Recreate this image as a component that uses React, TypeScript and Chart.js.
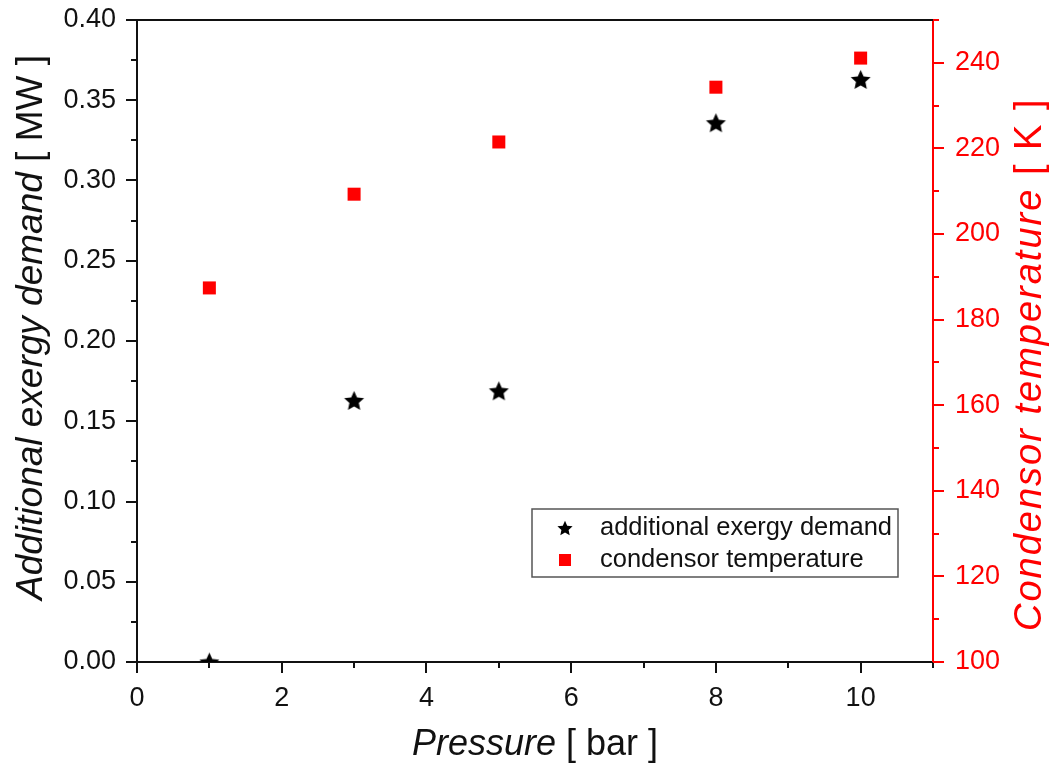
import React, { useEffect, useRef } from "react";
import { Chart, registerables } from "chart.js";

Chart.register(...registerables);

// ---------- data ----------
const pressure = [1, 3, 5, 8, 10];
const exergyDemand = [0.0, 0.163, 0.169, 0.336, 0.363];
const condensorTemp = [187.4, 209.3, 221.5, 234.3, 241.1];
const seriesLabels = ["additional exergy demand", "condensor temperature"];
const xTitle = ["Pressure", " [ bar ]"];
const yTitle = ["Additional exergy demand", " [ MW ]"];
const y2Title = ["Condensor temperature", " [ K ]"];

const FONT = "'Liberation Sans', Arial, Helvetica, sans-serif";
const RED = "#ff0000";
const INK = "#111111";

function makeStar(R: number, color: string): HTMLCanvasElement {
  const size = Math.ceil(R * 2 + 4);
  const c = document.createElement("canvas");
  c.width = size;
  c.height = size;
  const ctx = c.getContext("2d")!;
  const cx = size / 2;
  const cy = size / 2 + R * 0.1;
  ctx.beginPath();
  for (let i = 0; i < 10; i++) {
    const r = i % 2 === 0 ? R : R * 0.47;
    const a = -Math.PI / 2 + (i * Math.PI) / 5;
    const px = cx + r * Math.cos(a);
    const py = cy + r * Math.sin(a);
    if (i === 0) ctx.moveTo(px, py);
    else ctx.lineTo(px, py);
  }
  ctx.closePath();
  ctx.fillStyle = color;
  ctx.fill();
  return c;
}

function drawMixed(
  ctx: CanvasRenderingContext2D,
  parts: [string, boolean][],
  x: number,
  y: number,
  size: number,
  color: string,
  align: "left" | "center",
  spacing = 0
) {
  (ctx as any).letterSpacing = `${spacing}px`;
  const fonts = parts.map(([, it]) => `${it ? "italic " : ""}${size}px ${FONT}`);
  const widths = parts.map(([t], i) => {
    ctx.font = fonts[i];
    return ctx.measureText(t).width;
  });
  const total = widths.reduce((a, b) => a + b, 0);
  let cx = align === "center" ? x - total / 2 : x;
  ctx.fillStyle = color;
  ctx.textBaseline = "alphabetic";
  ctx.textAlign = "left";
  parts.forEach(([t], i) => {
    ctx.font = fonts[i];
    ctx.fillText(t, cx, y);
    cx += widths[i];
  });
  (ctx as any).letterSpacing = "0px";
}

const decorPlugin = {
  id: "decor",
  afterDraw(chart: any) {
    const { ctx, chartArea: a, scales } = chart;
    ctx.save();
    ctx.lineCap = "butt";
    // top spine
    ctx.strokeStyle = INK;
    ctx.lineWidth = 2;
    ctx.beginPath();
    ctx.moveTo(a.left, a.top);
    ctx.lineTo(a.right, a.top);
    ctx.stroke();

    // left ticks
    for (let i = 0; i <= 16; i++) {
      const v = i * 0.025;
      const py = Math.round(scales.y.getPixelForValue(v));
      const len = i % 2 === 0 ? 11 : 6;
      ctx.beginPath();
      ctx.moveTo(a.left, py);
      ctx.lineTo(a.left - len, py);
      ctx.stroke();
    }
    // bottom ticks
    for (let i = 0; i <= 11; i++) {
      const px = Math.round(scales.x.getPixelForValue(i));
      const len = i % 2 === 0 ? 11 : 6;
      ctx.beginPath();
      ctx.moveTo(px, a.bottom);
      ctx.lineTo(px, a.bottom + len);
      ctx.stroke();
    }
    // right ticks
    ctx.strokeStyle = RED;
    for (let i = 0; i <= 15; i++) {
      const v = 100 + i * 10;
      const py = Math.round(scales.y2.getPixelForValue(v));
      const len = i % 2 === 0 ? 11 : 6;
      ctx.beginPath();
      ctx.moveTo(a.right, py);
      ctx.lineTo(a.right + len, py);
      ctx.stroke();
    }

    // axis titles
    drawMixed(ctx, [[xTitle[0], true], [xTitle[1], false]], (a.left + a.right) / 2, 755, 36, INK, "center");

    ctx.save();
    ctx.translate(42, 600);
    ctx.rotate(-Math.PI / 2);
    drawMixed(ctx, [[yTitle[0], true], [yTitle[1], false]], 0, 0, 37, INK, "left");
    ctx.restore();

    ctx.save();
    ctx.translate(1041, 631);
    ctx.rotate(-Math.PI / 2);
    drawMixed(ctx, [[y2Title[0], true], [y2Title[1], false]], 0, 0, 38, RED, "left", 2);
    ctx.restore();

    // legend
    const bx = 532, by = 509, bw = 366, bh = 68;
    ctx.strokeStyle = "#555555";
    ctx.lineWidth = 1.5;
    ctx.strokeRect(bx, by, bw, bh);
    const star = makeStar(8, "#000");
    ctx.drawImage(star, 565 - star.width / 2, 528 - star.height / 2);
    ctx.fillStyle = RED;
    ctx.fillRect(565 - 6, 560 - 6, 12, 12);
    ctx.fillStyle = INK;
    ctx.font = `25.5px ${FONT}`;
    ctx.textBaseline = "middle";
    ctx.textAlign = "left";
    ctx.fillText(seriesLabels[0], 600, 528);
    ctx.fillText(seriesLabels[1], 600, 560);
    ctx.restore();
  },
};

export default function App() {
  const ref = useRef<HTMLCanvasElement | null>(null);
  useEffect(() => {
    if (!ref.current) return;
    const starImg = makeStar(10.5, "#000");
    const chart = new Chart(ref.current, {
      type: "scatter",
      data: {
        datasets: [
          {
            label: seriesLabels[0],
            data: pressure.map((p, i) => ({ x: p, y: exergyDemand[i] })),
            yAxisID: "y",
            pointStyle: starImg as any,
            pointRadius: 10,
            showLine: false,
            clip: 0,
          },
          {
            label: seriesLabels[1],
            data: pressure.map((p, i) => ({ x: p, y: condensorTemp[i] })),
            yAxisID: "y2",
            pointStyle: "rect",
            pointRadius: 9.2,
            pointBackgroundColor: RED,
            pointBorderColor: RED,
            pointBorderWidth: 0,
            showLine: false,
            clip: false as any,
          },
        ],
      },
      options: {
        responsive: false,
        animation: false,
        layout: { padding: { top: 20, left: 0, right: 0, bottom: 0 } },
        plugins: { legend: { display: false }, tooltip: { enabled: false } },
        scales: {
          x: {
            type: "linear",
            position: "bottom",
            min: 0,
            max: 11,
            afterFit: (s: any) => {
              s.height = 106;
              s.paddingLeft = 0;
              s.paddingRight = 0;
            },
            grid: { display: false, drawTicks: false },
            border: { display: true, color: INK, width: 2 },
            ticks: {
              stepSize: 2,
              includeBounds: false,
              padding: 20,
              color: INK,
              font: { family: FONT, size: 27 },
              maxRotation: 0,
              callback: (v: any) => String(v),
            },
          },
          y: {
            type: "linear",
            position: "left",
            min: 0,
            max: 0.4,
            afterFit: (s: any) => {
              s.width = 137;
              s.paddingTop = 0;
              s.paddingBottom = 0;
            },
            grid: { display: false, drawTicks: false },
            border: { display: true, color: INK, width: 2 },
            ticks: {
              stepSize: 0.05,
              includeBounds: false,
              padding: 21,
              color: INK,
              font: { family: FONT, size: 27 },
              callback: (v: any) => Number(v).toFixed(2),
            },
          },
          y2: {
            type: "linear",
            position: "right",
            min: 100,
            max: 250,
            afterFit: (s: any) => {
              s.width = 118;
              s.paddingTop = 0;
              s.paddingBottom = 0;
            },
            grid: { display: false, drawTicks: false },
            border: { display: true, color: RED, width: 2 },
            ticks: {
              stepSize: 20,
              includeBounds: false,
              padding: 22,
              color: RED,
              font: { family: FONT, size: 27 },
              callback: (v: any) => String(v),
            },
          },
        },
      },
      plugins: [decorPlugin],
    });
    return () => chart.destroy();
  }, []);
  return (
    <div
      style={{
        position: "fixed",
        left: 0,
        top: 0,
        width: 1051,
        height: 768,
        background: "#fff",
      }}
    >
      <canvas ref={ref} width={1051} height={768} style={{ display: "block" }} />
    </div>
  );
}
